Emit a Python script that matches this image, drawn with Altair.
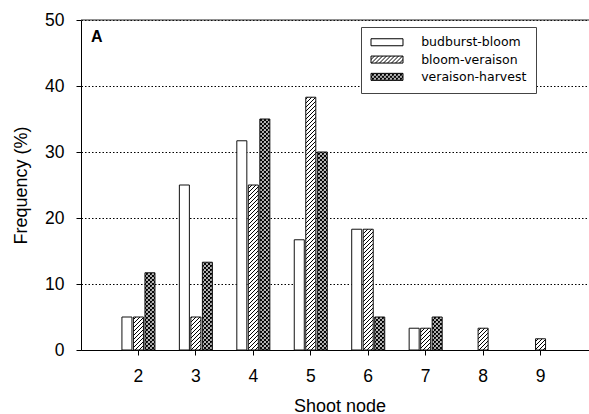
import altair as alt
import pandas as pd
import jinja2

# ---- data ----
nodes = ["2", "3", "4", "5", "6", "7", "8", "9"]
series = ["budburst-bloom", "bloom-veraison", "veraison-harvest"]
budburst_bloom = [5.0, 25.0, 31.7, 16.7, 18.3, 3.3, 0.0, 0.0]
bloom_veraison = [5.0, 5.0, 25.0, 38.3, 18.3, 3.3, 3.3, 1.7]
veraison_harvest = [11.7, 13.3, 35.0, 30.0, 5.0, 5.0, 0.0, 0.0]
y_ticks = [0, 10, 20, 30, 40, 50]
panel_label = "A"
x_title = "Shoot node"
y_title = "Frequency (%)"

rows = []
for name, vals in zip(series, [budburst_bloom, bloom_veraison, veraison_harvest]):
    for n, v in zip(nodes, vals):
        rows.append({"node": n, "series": name, "freq": v})
df = pd.DataFrame(rows)

FONT = "Liberation Sans"

bars = (
    alt.Chart(df)
    .transform_filter("datum.freq > 0")
    .mark_bar(stroke="#111111", strokeWidth=1)
    .encode(
        x=alt.X(
            "node:O",
            sort=nodes,
            scale=alt.Scale(domain=nodes, range=[0, 517], paddingInner=0.425, paddingOuter=0.7125),
            axis=alt.Axis(
                title=x_title, labelAngle=0, tickSize=5, labelPadding=12,
                titleBaseline="alphabetic", titleX=258.5, titleY=61, titleAlign="center",
            ),
        ),
        xOffset=alt.XOffset("series:N", sort=series,
                            scale=alt.Scale(domain=series, paddingInner=0.13, paddingOuter=0)),
        y=alt.Y(
            "freq:Q",
            scale=alt.Scale(domain=[0, 50], nice=False, zero=True),
            axis=alt.Axis(
                title=y_title, values=y_ticks, tickSize=5, labelPadding=12,
                grid=True, gridDash=[1.5, 2], gridColor="black", gridOpacity=1, gridWidth=1,
                titleAngle=270, titleBaseline="alphabetic", titleX=-54.5, titleY=165,
                titleAlign="center",
            ),
        ),
        color=alt.Color(
            "series:N",
            sort=series,
            scale=alt.Scale(domain=series,
                            range=["white", "url(#hatch-diag)", "url(#hatch-cross)"]),
            legend=alt.Legend(
                title=None, orient="none", legendX=280, legendY=7,
                fillColor="white", strokeColor="#444444", padding=9,
                symbolType="M-4.571,-1H4.571V1H-4.571Z", symbolSize=49,
                symbolStrokeColor="black", symbolStrokeWidth=1, symbolOffset=10.75,
                labelOffset=27.9, labelFont="DejaVu Sans", labelFontSize=12.5,
                labelColor="black", rowPadding=4.3,
            ),
        ),
    )
)

top_line = alt.Chart(pd.DataFrame({"v": [50]})).mark_rule(color="#222222", strokeWidth=1).encode(
    y=alt.Y("v:Q")
)

chart = (
    alt.layer(bars, top_line)
    .properties(
        width=508,
        height=330,
        autosize=alt.AutoSizeParams(type="none"),
        padding={"left": 81, "top": 20, "right": 0, "bottom": 64},
        title=alt.TitleParams(
            panel_label, anchor="start", frame="group", dx=10, dy=47,
            offset=0, baseline="alphabetic", font=FONT, fontSize=16, fontWeight="bold",
            color="black",
        ),
    )
    .configure_view(stroke=None)
    .configure_axis(
        labelFont=FONT, labelFontSize=17.5, labelColor="black",
        titleFont=FONT, titleFontSize=18, titleFontWeight="normal", titleColor="black",
        domainColor="black", tickColor="black", domainWidth=1, tickWidth=1,
    )
)

TEMPLATE = jinja2.Template("""<!DOCTYPE html>
<html>
<head>
<meta charset="utf-8">
<style>
  html, body { overflow: hidden; margin: 0; padding: 0; }
  #{{ output_div }}.vega-embed { width: 100%; display: flex; }
  #{{ output_div }}.vega-embed details,
  #{{ output_div }}.vega-embed details summary { position: relative; }
</style>
<script type="text/javascript" src="{{ base_url }}/vega@{{ vega_version }}"></script>
<script type="text/javascript" src="{{ base_url }}/vega-lite@{{ vegalite_version }}"></script>
<script type="text/javascript" src="{{ base_url }}/vega-embed@{{ vegaembed_version }}"></script>
</head>
<body>
<svg width="0" height="0" style="position:absolute" aria-hidden="true">
  <defs>
    <pattern id="hatch-diag" patternUnits="userSpaceOnUse" width="4" height="4">
      <rect width="4" height="4" fill="white"/>
      <path d="M-1,1 L1,-1 M0,4 L4,0 M3,5 L5,3" stroke="black" stroke-width="1"/>
    </pattern>
    <pattern id="hatch-cross" patternUnits="userSpaceOnUse" width="4" height="4">
      <rect width="4" height="4" fill="white"/>
      <path d="M-1,-1 L5,5 M5,-1 L-1,5 M-1,1 L1,-1 M3,5 L5,3 M3,-1 L5,1 M-1,3 L1,5" stroke="black" stroke-width="1.2"/>
    </pattern>
  </defs>
</svg>
<div id="{{ output_div }}"></div>
<script>
  (function(vegaEmbed) {
    var spec = {{ spec }};
    var embedOpt = {{ embed_options }};
    function showError(el, error) {
      el.innerHTML = ('<div style="color:red;"><p>JavaScript Error: ' + error.message + '</p></div>');
      throw error;
    }
    const el = document.getElementById('{{ output_div }}');
    vegaEmbed("#{{ output_div }}", spec, embedOpt).catch(error => showError(el, error));
  })(vegaEmbed);
</script>
</body>
</html>
""")

try:
    chart.save("out.html", embed_options={"renderer": "svg", "actions": False}, template=TEMPLATE)
except TypeError:
    chart.save("out.html", embed_options={"renderer": "svg", "actions": False})
